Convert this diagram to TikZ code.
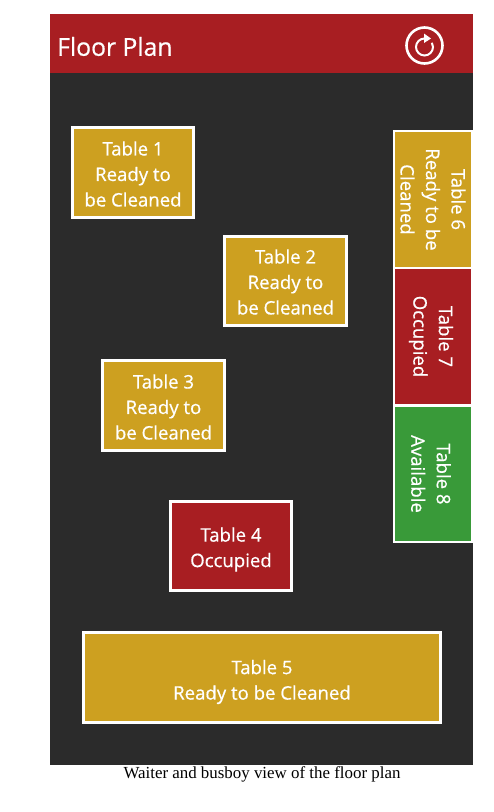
\documentclass[tikz,border=0pt]{standalone}
\usepackage{fontspec}
\setmainfont{Liberation Serif}
\newfontfamily\uifont[RawFeature={embolden=0.6}]{Open Sans}
\usetikzlibrary{arrows.meta}
\definecolor{hdr}{HTML}{A81E22}
\definecolor{bg}{HTML}{2B2B2B}
\definecolor{gold}{HTML}{CDA020}
\definecolor{grn}{HTML}{399A39}
\newcommand{\tbltext}[3]{\parbox{#1}{\vspace*{#2}\centering #3}}
\tikzset{
  tbl/.style={draw=white,line width=3pt,inner sep=0pt,text=white,anchor=center,
    font=\uifont\fontsize{18.6}{25.5}\selectfont},
  vtbl/.style={tbl,rotate=-90,line width=1.8pt}
}
\begin{document}
\begin{tikzpicture}[x=1pt,y=-1pt]
\useasboundingbox (0,0) rectangle (494,812);
\fill[white] (0,0) rectangle (494,812);
\fill[bg] (50,73) rectangle (473,765);
\fill[hdr] (50,14) rectangle (473,73);
\node[anchor=west,text=white,inner sep=0pt,font=\uifont\fontsize{24.7}{28}\selectfont] (title) at (57,46.5) {Floor Plan};
\node[circle,draw=white,line width=2.6pt,minimum size=36pt,inner sep=0pt] (refresh) at (424.5,45.5) {};
\coordinate (arcstart) at (424.5,38.5);
\draw[white,line width=2pt] (arcstart) arc[start angle=-90,end angle=-390,radius=8.5];
\fill[white] (424,33.5) -- (431,38.5) -- (424,43) -- cycle;
\node[tbl,fill=gold,minimum width=121pt,minimum height=90pt] (t1) at (133,172.5) {\tbltext{118pt}{3pt}{Table 1\\Ready to\\be Cleaned}};
\node[tbl,fill=gold,minimum width=122pt,minimum height=89pt] (t2) at (285.5,281) {\tbltext{118pt}{2pt}{Table 2\\Ready to\\be Cleaned}};
\node[tbl,fill=gold,minimum width=122pt,minimum height=90pt] (t3) at (163.5,405.5) {\tbltext{118pt}{3pt}{Table 3\\Ready to\\be Cleaned}};
\node[tbl,fill=hdr,minimum width=121pt,minimum height=89pt] (t4) at (231,546) {\tbltext{118pt}{7pt}{Table 4\\Occupied}};
\node[tbl,fill=gold,minimum width=357pt,minimum height=90pt] (t5) at (262,677.5) {\tbltext{350pt}{9pt}{Table 5\\Ready to be Cleaned}};
\node[vtbl,fill=gold,minimum width=136.5pt,minimum height=78pt] (t6) at (433,199.5) {\tbltext{130pt}{0pt}{Table 6\\Ready to be\\Cleaned}};
\node[vtbl,fill=hdr,minimum width=136pt,minimum height=78pt] (t7) at (433,336.5) {\tbltext{130pt}{4pt}{Table 7\\Occupied}};
\node[vtbl,fill=grn,minimum width=136.5pt,minimum height=78pt] (t8) at (433,474) {\tbltext{130pt}{4pt}{Table 8\\Available}};
\node[anchor=center,inner sep=0pt,text=black,font=\fontsize{16.9}{19}\selectfont] (cap) at (262,774) {Waiter and busboy view of the floor plan};
\end{tikzpicture}
\end{document}
